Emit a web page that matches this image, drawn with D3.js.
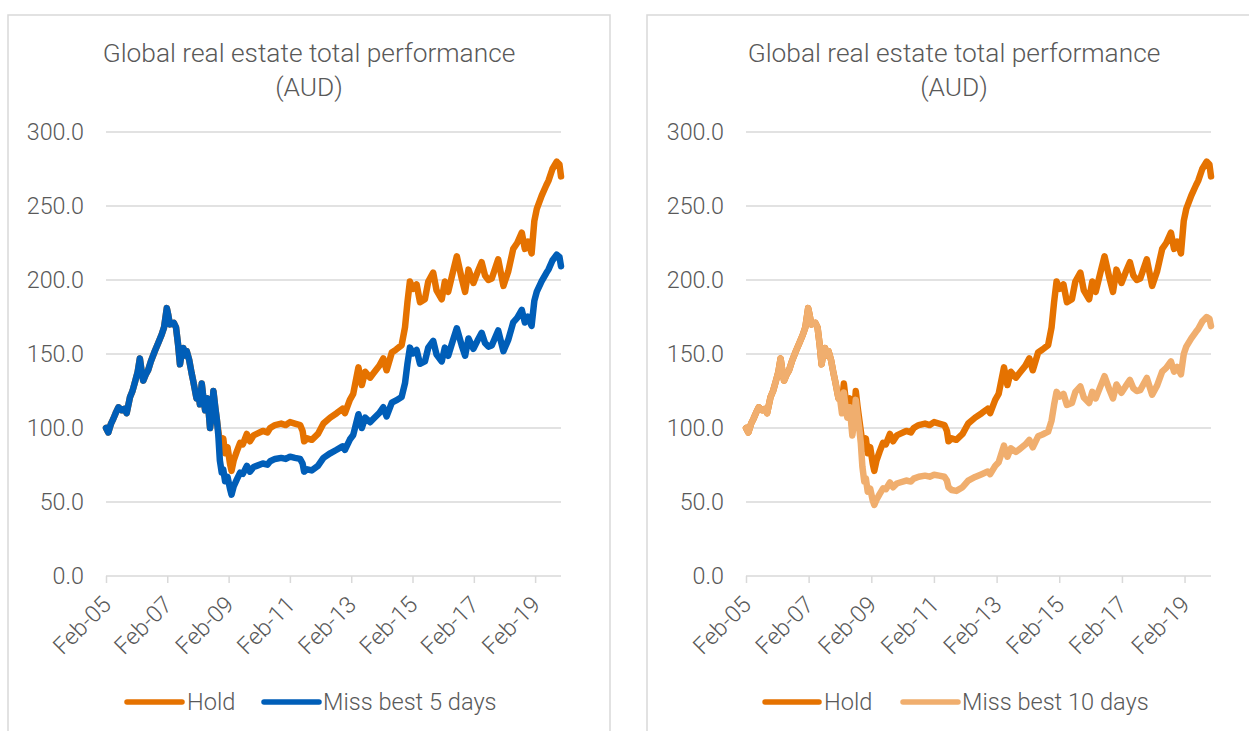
<!DOCTYPE html>
<html>
<head>
<meta charset="utf-8">
<script src="https://cdn.jsdelivr.net/npm/d3@7"></script>
<style>
  html, body { margin: 0; padding: 0; background: #ffffff; }
  svg { display: block; }
  text { font-family: Roboto, "Noto Sans", sans-serif; font-weight: 300; fill: #595959; }
</style>
</head>
<body>
<svg id="chart" width="1249" height="731"></svg>
<script>
// ---------- DATA ----------
const titleLines = ["Global real estate total performance", "(AUD)"];
const xTickLabels = ["Feb-05","Feb-07","Feb-09","Feb-11","Feb-13","Feb-15","Feb-17","Feb-19"];
const yTicks = [0, 50, 100, 150, 200, 250, 300];

// dates as decimal years
const dates = [
2005.085,2005.16,2005.25,2005.32,2005.40,2005.49,2005.60,2005.70,2005.76,2005.87,
2005.95,2006.03,2006.12,2006.19,2006.25,2006.30,2006.38,2006.46,2006.55,2006.68,
2006.80,2006.90,2006.98,2007.07,2007.12,2007.17,2007.30,2007.37,2007.44,2007.50,
2007.55,2007.61,2007.67,2007.72,2007.80,2007.88,2007.93,2008.04,2008.10,2008.15,
2008.21,2008.27,2008.32,2008.40,2008.48,2008.54,2008.59,2008.65,2008.70,2008.75,
2008.80,2008.86,2008.91,2008.97,2009.05,2009.13,2009.18,2009.25,2009.35,2009.46,
2009.55,2009.68,2009.78,2009.90,2010.00,2010.20,2010.35,2010.44,2010.60,2010.80,
2010.95,2011.09,2011.25,2011.42,2011.50,2011.55,2011.65,2011.80,2012.00,2012.18,
2012.40,2012.61,2012.80,2012.88,2013.04,2013.15,2013.32,2013.43,2013.54,2013.70,
2013.81,2014.00,2014.13,2014.24,2014.41,2014.55,2014.73,2014.84,2014.92,2015.00,
2015.10,2015.22,2015.33,2015.49,2015.60,2015.76,2015.87,2016.04,2016.14,2016.25,
2016.40,2016.53,2016.69,2016.80,2016.91,2017.07,2017.20,2017.34,2017.45,2017.56,
2017.67,2017.88,2018.05,2018.21,2018.37,2018.50,2018.65,2018.75,2018.85,2018.97,
2019.06,2019.14,2019.30,2019.45,2019.52,2019.65,2019.79,2019.88,2019.93
];

const hold = [
100,97,103,106,110,114,112,113,110,121,
125,131,138,147,138,132,136,139,145,152,
158,163,168,181,176,170,171,168,156,143,
150,154,149,152,146,137,132,120,124,116,
130,119,112,120,100,110,125,114,106,98,
90,86,93,83,87,76,71,78,84,90,
89,96,91,95,96,98,97,100,102,103,
102,104,103,102,98,91,93,92,96,103,
107,110,113,110,119,123,141,129,138,134,
137,142,147,139,151,153,156,168,185,199,
194,197,185,187,199,205,193,187,199,192,
205,216,201,192,207,198,205,212,203,200,
201,214,196,206,221,225,232,221,226,218,
240,248,257,264,267,275,280,278,270
];

const missBest5 = [
100,97,103,106,110,114,112,113,110,121,
125,131,138,147,138,132,136,139,145,152,
158,163,168,181,176,170,171,168,156,143,
150,154,149,152,146,137,132,120,124,116,
130,119,112,120,100,110,125,114,106,95,
78,70,72,64,67,59,55,60.5,65.1,69.8,
69.0,74.4,70.5,73.6,74.4,76.0,75.2,77.5,79.1,79.8,
79.1,80.6,79.8,79.1,76.0,70.5,72.1,71.3,74.4,79.8,
82.9,85.3,87.6,85.3,92.2,95.3,109.3,100.0,107.0,103.9,
106.2,110.1,114.0,107.8,117.1,118.6,120.9,130.2,143.4,154.3,
150.4,152.7,143.4,145.0,154.3,158.9,149.6,145.0,154.3,148.8,
158.9,167.4,155.8,148.8,160.5,153.5,158.9,164.3,157.4,155.0,
155.8,165.9,151.9,159.7,171.3,174.4,179.8,171.3,175.2,169.0,
186.0,192.2,199.2,204.7,207.0,213.2,217.1,215.5,209.3
];

const missBest10 = [
100,97,103,106,110,114,112,113,110,121,
125,131,138,147,138,132,136,139,145,152,
158,163,168,181,176,170,171,168,156,143,
150,154,149,152,146,137,132,120,118,110,
124,113,107,114,95,105,119,108,100,90,
74,64,66,57,59,51,48,51.5,55.3,59.2,
58.6,63.2,59.9,62.5,63.2,64.5,63.8,65.8,67.1,67.8,
67.1,68.4,67.8,67.1,64.5,59.9,58.1,57.5,60.0,64.4,
66.9,68.8,70.6,68.8,74.4,76.9,88.1,80.6,86.3,83.8,
85.6,88.8,91.9,86.9,94.4,95.6,97.5,105.0,115.6,124.4,
121.3,123.1,115.6,116.9,124.4,128.1,120.6,116.9,124.4,120.0,
128.1,135.0,125.6,120.0,129.4,123.8,128.1,132.5,126.9,125.0,
125.6,133.8,122.5,128.8,138.1,140.6,145.0,138.1,141.3,136.3,
150.0,155.0,160.6,165.0,166.9,171.9,175.0,173.8,168.8
];

const seriesNames = ["Hold", "Miss best 5 days", "Miss best 10 days"];

// ---------- HELPERS ----------
function decToDate(t) {
  const y = Math.floor(t);
  const s = Date.UTC(y, 0, 1), e = Date.UTC(y + 1, 0, 1);
  return new Date(s + (t - y) * (e - s));
}
function toPoints(values) {
  return values.map((v, i) => ({ date: decToDate(dates[i]), v: v }));
}
const tickDates = xTickLabels.map((_, i) => new Date(Date.UTC(2005 + 2 * i, 1, 1)));

const COLORS = { hold: "#E57200", miss5: "#005EB8", miss10: "#F0AE6E" };
const GRID = "#D9D9D9";
const FONT = "Roboto, 'Noto Sans', sans-serif";

const svg = d3.select("#chart");
svg.append("rect").attr("width", 1249).attr("height", 731).attr("fill", "#fff");

const panels = [
  {
    box: { x: 8, y: 15, w: 602, h: 740 },
    plot: { x0: 106, x1: 561 },
    titleX: 309,
    series: [
      { name: seriesNames[0], values: hold, color: COLORS.hold },
      { name: seriesNames[1], values: missBest5, color: COLORS.miss5 }
    ],
    legend: [{ lx0: 127, lx1: 182, tx: 187 }, { lx0: 264, lx1: 319, tx: 323 }]
  },
  {
    box: { x: 647, y: 15, w: 700, h: 740 },
    plot: { x0: 746, x1: 1211 },
    titleX: 954,
    series: [
      { name: seriesNames[0], values: hold, color: COLORS.hold },
      { name: seriesNames[2], values: missBest10, color: COLORS.miss10 }
    ],
    legend: [{ lx0: 765, lx1: 819, tx: 824 }, { lx0: 903, lx1: 958, tx: 962 }]
  }
];

const yTop = 132, yBottom = 576;

panels.forEach(p => {
  const g = svg.append("g");

  g.append("rect")
    .attr("x", p.box.x).attr("y", p.box.y)
    .attr("width", p.box.w).attr("height", p.box.h)
    .attr("fill", "none").attr("stroke", GRID).attr("stroke-width", 1.5);

  g.append("text")
    .attr("x", p.titleX).attr("y", 62)
    .attr("text-anchor", "middle").attr("font-size", 26.3)
    .text(titleLines[0]);
  g.append("text")
    .attr("x", p.titleX).attr("y", 96)
    .attr("text-anchor", "middle").attr("font-size", 26.3)
    .text(titleLines[1]);

  const x = d3.scaleUtc()
    .domain([decToDate(dates[0]), decToDate(dates[dates.length - 1])])
    .range([p.plot.x0, p.plot.x1]);
  const y = d3.scaleLinear().domain([0, 300]).range([yBottom, yTop]);

  g.append("g").selectAll("line").data(yTicks).join("line")
    .attr("x1", p.plot.x0).attr("x2", p.plot.x1)
    .attr("y1", d => y(d)).attr("y2", d => y(d))
    .attr("stroke", GRID).attr("stroke-width", 1.5);

  const yAxis = d3.axisLeft(y).tickValues(yTicks).tickSize(0).tickPadding(22)
    .tickFormat(d3.format(".1f"));
  const yg = g.append("g").attr("transform", `translate(${p.plot.x0},0)`).call(yAxis);
  yg.select(".domain").remove();
  yg.selectAll("text").attr("font-size", 23.3).attr("fill", "#595959")
    .attr("font-family", FONT).attr("font-weight", 300);

  const xAxis = d3.axisBottom(x).tickValues(tickDates).tickSize(7)
    .tickFormat((d, i) => xTickLabels[i]);
  const xg = g.append("g").attr("transform", `translate(0,${yBottom})`).call(xAxis);
  xg.select(".domain").remove();
  xg.selectAll(".tick line").attr("stroke", GRID).attr("stroke-width", 1.5);
  xg.selectAll("text")
    .attr("font-size", 23.3).attr("fill", "#595959")
    .attr("font-family", FONT).attr("font-weight", 300)
    .attr("text-anchor", "end")
    .attr("x", 0).attr("y", 0).attr("dy", 0)
    .attr("transform", "translate(6,30) rotate(-45)");

  const line = d3.line().x(d => x(d.date)).y(d => y(d.v));
  p.series.forEach(s => {
    g.append("path")
      .datum(toPoints(s.values))
      .attr("d", line)
      .attr("fill", "none")
      .attr("stroke", s.color)
      .attr("stroke-width", 6.5)
      .attr("stroke-linejoin", "round")
      .attr("stroke-linecap", "round");
  });

  p.series.forEach((s, i) => {
    const L = p.legend[i];
    g.append("line")
      .attr("x1", L.lx0).attr("x2", L.lx1)
      .attr("y1", 702).attr("y2", 702)
      .attr("stroke", s.color).attr("stroke-width", 5.5)
      .attr("stroke-linecap", "round");
    g.append("text")
      .attr("x", L.tx).attr("y", 710)
      .attr("font-size", 23.6)
      .text(s.name);
  });
});
</script>
</body>
</html>
